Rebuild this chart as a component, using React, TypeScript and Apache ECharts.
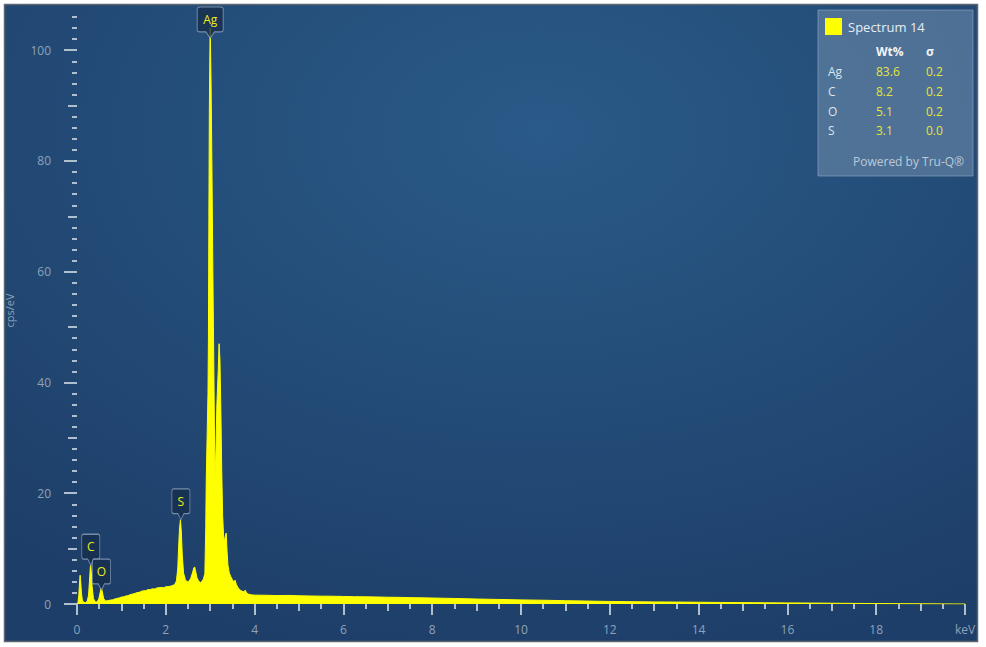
import React, { useEffect, useRef } from "react";
import * as echarts from "echarts";

// ---- data ----
const spectrumKeV = [
  0.0, 0.02, 0.04, 0.06, 0.07, 0.08, 0.1, 0.12, 0.15, 0.19, 0.23, 0.26, 0.28, 0.3, 0.31, 0.32, 0.34, 0.37,
  0.41, 0.45, 0.49, 0.52, 0.54, 0.55, 0.57, 0.6, 0.64, 0.7, 0.75, 0.8, 0.85, 0.9, 0.95, 1.0, 1.05, 1.1,
  1.15, 1.2, 1.25, 1.3, 1.35, 1.4, 1.45, 1.5, 1.55, 1.6, 1.65, 1.7, 1.75, 1.8, 1.85, 1.9, 1.95, 2.0, 2.05,
  2.1, 2.15, 2.2, 2.24, 2.27, 2.29, 2.31, 2.33, 2.35, 2.37, 2.4, 2.44, 2.48, 2.52, 2.56, 2.6, 2.63, 2.65,
  2.67, 2.7, 2.74, 2.78, 2.82, 2.85, 2.88, 2.9, 2.91, 2.93, 2.95, 2.96, 2.97, 2.98, 2.99, 3.0, 3.01, 3.02,
  3.04, 3.06, 3.08, 3.1, 3.11, 3.13, 3.15, 3.18, 3.2, 3.22, 3.24, 3.26, 3.28, 3.3, 3.32, 3.34, 3.36, 3.38,
  3.4, 3.43, 3.46, 3.5, 3.53, 3.56, 3.59, 3.63, 3.68, 3.72, 3.76, 3.79, 3.82, 3.87, 3.93, 4.0, 4.25, 4.5,
  4.75, 5.0, 5.25, 5.5, 5.75, 6.0, 6.25, 6.5, 6.75, 7.0, 7.25, 7.5, 7.75, 8.0, 8.5, 9.0, 9.5, 10.0, 10.5,
  11.0, 11.5, 12.0, 12.5, 13.0, 13.5, 14.0, 14.5, 15.0, 15.5, 16.0, 16.5, 17.0, 17.5, 18.0, 18.5, 19.0,
  19.5, 20.0,
];
const spectrumCps = [
  0, 0.2, 1.5, 4.2, 5.2, 4.4, 2.0, 0.7, 0.3, 0.25, 0.5, 1.6, 4.0, 6.6, 7.0, 6.0, 3.2, 1.0,
  0.4, 0.35, 0.9, 2.0, 2.8, 2.9, 2.2, 1.0, 0.55, 0.6, 0.7, 0.75, 0.9, 1.0, 1.1, 1.25, 1.3, 1.45,
  1.5, 1.7, 1.8, 1.9, 2.05, 2.1, 2.3, 2.4, 2.4, 2.6, 2.6, 2.75, 2.7, 2.9, 2.95, 3.0, 2.95, 3.1, 3.15,
  3.2, 3.35, 3.5, 4.2, 6.5, 10.5, 13.8, 15.2, 13.0, 9.0, 5.6, 4.4, 4.0, 4.1, 4.6, 5.6, 6.5, 6.7,
  6.0, 4.8, 4.1, 3.9, 4.1, 4.6, 5.5, 14, 22, 30, 38, 48, 70, 88, 98, 104, 99, 94,
  78, 60, 44, 28, 23, 28, 36, 42, 47, 44, 35, 24, 16, 12.5, 11.2, 12.2, 12.8, 9.5,
  7.0, 5.6, 5.0, 4.4, 4.0, 4.3, 3.5, 2.9, 2.5, 2.3, 2.2, 2.5, 2.0, 1.75, 1.65, 1.6, 1.58, 1.52,
  1.55, 1.48, 1.45, 1.42, 1.4, 1.36, 1.32, 1.3, 1.27, 1.22, 1.2, 1.15, 1.12, 1.08, 1.0, 0.9, 0.82, 0.74, 0.68,
  0.6, 0.53, 0.46, 0.42, 0.38, 0.35, 0.32, 0.28, 0.25, 0.22, 0.2, 0.17, 0.14, 0.11, 0.08, 0.06, 0.04,
  0.02, 0,
];

const peakLabels = ["C", "O", "S", "Ag"];
const peakKeV = [0.31, 0.55, 2.34, 3.0];
const peakTip = [7.0, 2.5, 15.2, 102.2];

const legendTitle = "Spectrum 14";
const tableElements = ["Ag", "C", "O", "S"];
const tableWtPct = ["83.6", "8.2", "5.1", "3.1"];
const tableSigma = ["0.2", "0.2", "0.2", "0.0"];

const yLabelTicks = [0, 20, 40, 60, 80, 100];
const yMidTicks = [10, 30, 50, 70, 90];
const yMinorTicks = [
  2, 4, 6, 8, 12, 14, 16, 18, 22, 24, 26, 28, 32, 34, 36, 38, 42, 44, 46, 48, 52, 54, 56, 58, 62, 64,
  66, 68, 72, 74, 76, 78, 82, 84, 86, 88, 92, 94, 96, 98, 102, 104, 106,
];

const FONT = "Open Sans";
const AXIS_COLOR = "#8fa2b8";
const TICK_COLOR = "#b0bfce";
const YELLOW = "#ffff00";

const PIN_PATH =
  "path://M2,0 L16,0 Q18,0 18,2 L18,22 Q18,24 16,24 L12,24 L9,30 L6,24 L2,24 Q0,24 0,22 L0,2 Q0,0 2,0 Z";

export default function App() {
  const ref = useRef<HTMLDivElement>(null);

  useEffect(() => {
    if (!ref.current) return;
    const chart = echarts.init(ref.current, undefined, { renderer: "svg" });

    const data = spectrumKeV.map((e, i) => [e, spectrumCps[i]]);

    const yCommon = {
      type: "value",
      min: 0,
      max: 106,
      position: "left",
      offset: 10,
      axisLine: { show: false },
      splitLine: { show: false },
    };
    const xCommon = {
      type: "value",
      min: 0,
      max: 20,
      position: "bottom",
      offset: 3,
      axisLine: { show: false },
      splitLine: { show: false },
    };

    const legendChildren: any[] = [
      {
        type: "rect",
        shape: { x: 818, y: 10, width: 155, height: 166 },
        style: { fill: "rgba(110,140,170,0.58)", stroke: "rgba(150,170,195,0.6)", lineWidth: 1 },
      },
      { type: "rect", shape: { x: 825, y: 18, width: 17, height: 17 }, style: { fill: YELLOW } },
      {
        type: "text",
        style: { x: 848, y: 27, text: legendTitle, fill: "#e6edf4", font: `13px "${FONT}"`, verticalAlign: "middle" },
      },
      {
        type: "text",
        style: { x: 876, y: 51, text: "Wt%", fill: "#f2f5f8", font: `bold 12px "${FONT}"`, verticalAlign: "middle" },
      },
      {
        type: "text",
        style: { x: 926, y: 51, text: "σ", fill: "#f2f5f8", font: `bold 12px "${FONT}"`, verticalAlign: "middle" },
      },
      {
        type: "text",
        style: {
          x: 853,
          y: 161,
          text: "Powered by Tru-Q®",
          fill: "#bccad8",
          font: `12px "${FONT}"`,
          verticalAlign: "middle",
        },
      },
    ];
    tableElements.forEach((el, i) => {
      const y = 71.5 + i * 19.8;
      legendChildren.push(
        { type: "text", style: { x: 828, y, text: el, fill: "#dde5ee", font: `12px "${FONT}"`, verticalAlign: "middle" } },
        { type: "text", style: { x: 876, y, text: tableWtPct[i], fill: "#e2e63a", font: `12px "${FONT}"`, verticalAlign: "middle" } },
        { type: "text", style: { x: 926, y, text: tableSigma[i], fill: "#e2e63a", font: `12px "${FONT}"`, verticalAlign: "middle" } }
      );
    });

    const option: any = {
      animation: false,
      backgroundColor: "#ffffff",
      textStyle: { fontFamily: FONT },
      grid: { left: 77, right: 21, top: 17, bottom: 43, containLabel: false, outerBoundsMode: "none" },
      graphic: [
        {
          type: "rect",
          z: -10,
          silent: true,
          shape: { x: 4.5, y: 4.5, width: 973, height: 637 },
          style: {
            fill: new echarts.graphic.RadialGradient(0.55, 0.2, 0.85, [
              { offset: 0, color: "#2a5a88" },
              { offset: 1, color: "#1d3e68" },
            ]),
            stroke: "#5c6670",
            lineWidth: 1.5,
          },
        },
        { type: "group", z: 100, children: legendChildren },
      ],
      xAxis: [
        {
          ...xCommon,
          interval: 2,
          axisTick: { show: true, length: 11, lineStyle: { color: TICK_COLOR, width: 2 } },
          axisLabel: {
            color: AXIS_COLOR,
            fontSize: 12,
            fontFamily: FONT,
            margin: 16,
            formatter: (v: number) => (v === 20 ? "keV" : String(v)),
          },
        },
        {
          ...xCommon,
          interval: 1,
          axisTick: { show: true, length: 7, lineStyle: { color: TICK_COLOR, width: 2 } },
          axisLabel: { show: false },
        },
        {
          ...xCommon,
          interval: 0.5,
          axisTick: { show: true, length: 5, lineStyle: { color: TICK_COLOR, width: 2 } },
          axisLabel: { show: false },
        },
      ],
      yAxis: [
        {
          ...yCommon,
          name: "cps/eV",
          nameLocation: "middle",
          nameGap: 52,
          nameTextStyle: { color: AXIS_COLOR, fontSize: 11, fontFamily: FONT },
          axisTick: { show: true, length: 13, customValues: yLabelTicks, lineStyle: { color: TICK_COLOR, width: 2 } },
          axisLabel: { color: AXIS_COLOR, fontSize: 12, fontFamily: FONT, margin: 16, customValues: yLabelTicks },
        },
        {
          ...yCommon,
          axisTick: { show: true, length: 9, customValues: yMidTicks, lineStyle: { color: TICK_COLOR, width: 2 } },
          axisLabel: { show: false },
        },
        {
          ...yCommon,
          axisTick: { show: true, length: 5, customValues: yMinorTicks, lineStyle: { color: TICK_COLOR, width: 2 } },
          axisLabel: { show: false },
        },
      ],
      series: [
        {
          type: "line",
          xAxisIndex: 0,
          yAxisIndex: 0,
          data,
          showSymbol: false,
          symbol: "none",
          lineStyle: { color: YELLOW, width: 1 },
          areaStyle: { color: YELLOW, opacity: 1 },
          itemStyle: { color: YELLOW },
          markPoint: {
            symbol: PIN_PATH,
            symbolKeepAspect: false,
            itemStyle: { color: "rgba(22,45,75,0.78)", borderColor: "rgba(150,170,195,0.75)", borderWidth: 1 },
            label: {
              show: true,
              position: "inside",
              offset: [0, -3],
              color: "#ecec1a",
              fontSize: 12,
              fontFamily: FONT,
              formatter: (p: any) => p.name,
            },
            data: peakLabels.map((name, i) => ({
              name,
              coord: [peakKeV[i], peakTip[i]],
              symbolSize: [name.length > 1 ? 26 : 18, 31],
              symbolOffset: [0, "-50%"],
            })),
          },
        },
      ],
    };

    chart.setOption(option);
    return () => chart.dispose();
  }, []);

  return (
    <div
      ref={ref}
      style={{ position: "absolute", left: 0, top: 0, width: 986, height: 647 }}
    />
  );
}
